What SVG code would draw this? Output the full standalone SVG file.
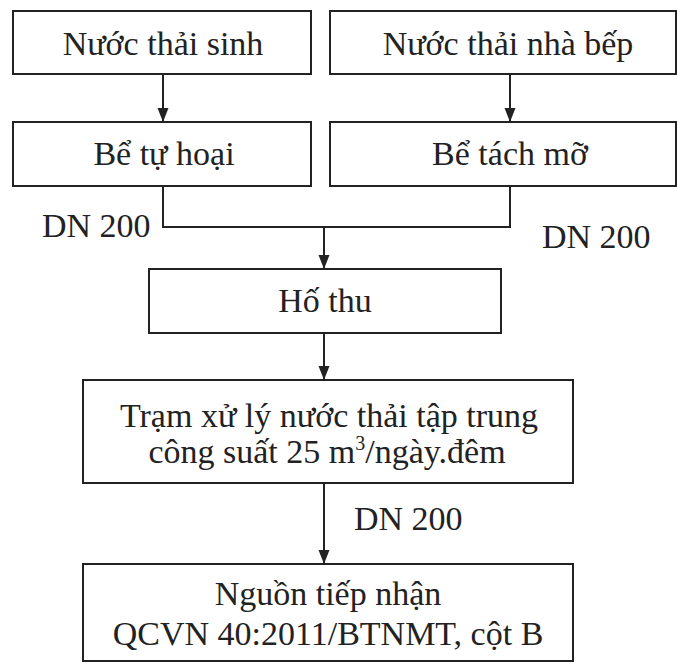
<svg xmlns="http://www.w3.org/2000/svg" width="677" height="664" viewBox="0 0 677 664">
  <defs>
    <style>
      .box { fill: #ffffff; stroke: #222222; stroke-width: 2; }
      .lbl { font-family: "Liberation Serif", "Times New Roman", serif; font-size: 34px; fill: #222222; }
      .mid { text-anchor: middle; }
      .wire { fill: none; stroke: #222222; stroke-width: 2; }
    </style>
    <marker id="arrow" markerUnits="userSpaceOnUse" markerWidth="14" markerHeight="12" refX="14" refY="5.5" orient="auto">
      <path d="M0,0 L14,5.5 L0,11 Z" fill="#222222"/>
    </marker>
  </defs>

  <rect width="677" height="664" fill="#ffffff"/>

  <!-- connectors -->
  <g id="connectors">
    <path class="wire" d="M163,74 V122" marker-end="url(#arrow)"/>
    <path class="wire" d="M510,74 V122" marker-end="url(#arrow)"/>
    <path class="wire" d="M163,186 V227 H510 V186"/>
    <path class="wire" d="M324,227 V269" marker-end="url(#arrow)"/>
    <path class="wire" d="M324,333 V380" marker-end="url(#arrow)"/>
    <path class="wire" d="M324,483 V564" marker-end="url(#arrow)"/>
  </g>

  <!-- pipe size labels -->
  <g id="pipe-labels">
    <text class="lbl" x="42" y="237">DN 200</text>
    <text class="lbl" x="542" y="248">DN 200</text>
    <text class="lbl" x="354" y="530">DN 200</text>
  </g>

  <g id="n-sinh-hoat">
    <rect class="box" x="13" y="11" width="298" height="63"/>
    <text class="lbl mid" x="163" y="55">Nước thải sinh</text>
  </g>

  <g id="n-nha-bep">
    <rect class="box" x="330" y="11" width="346" height="63"/>
    <text class="lbl mid" x="508" y="55">Nước thải nhà bếp</text>
  </g>

  <g id="be-tu-hoai">
    <rect class="box" x="13" y="122" width="298" height="64"/>
    <text class="lbl mid" x="164" y="165">Bể tự hoại</text>
  </g>

  <g id="be-tach-mo">
    <rect class="box" x="330" y="122" width="346" height="64"/>
    <text class="lbl mid" x="510" y="165">Bể tách mỡ</text>
  </g>

  <g id="ho-thu">
    <rect class="box" x="149" y="269" width="352" height="64"/>
    <text class="lbl mid" x="325" y="312">Hố thu</text>
  </g>

  <g id="tram-xu-ly">
    <rect class="box" x="83" y="380" width="490" height="103"/>
    <text class="lbl mid" x="329" y="427">Trạm xử lý nước thải tập trung</text>
    <text class="lbl mid" x="327" y="463">công suất 25 m<tspan font-size="20" dy="-13">3</tspan><tspan dy="13">/ngày.đêm</tspan></text>
  </g>

  <g id="nguon-tiep-nhan">
    <rect class="box" x="83" y="564" width="490" height="97"/>
    <text class="lbl mid" x="328" y="605">Nguồn tiếp nhận</text>
    <text class="lbl mid" x="328" y="645">QCVN 40:2011/BTNMT, cột B</text>
  </g>
</svg>
